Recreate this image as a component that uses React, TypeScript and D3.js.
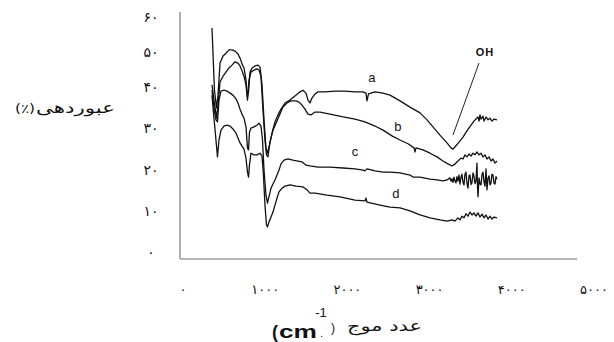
import React, { useLayoutEffect, useRef, useState } from 'react';
import * as d3 from 'd3';

const W = 614;
const H = 342;

// Axis ticks (wavenumber in cm-1, transmittance in %)
const xTicks = [0, 1000, 2000, 3000, 4000, 5000];
const yTicks = [0, 10, 20, 30, 40, 50, 60];

// FTIR spectra: [wavenumber (cm-1), transmittance (%)]
const curveA: [number, number][] = [
  [403, 56.1], [434, 41.0], [460, 36.7], [479, 39.8], [504, 47.6], [542, 49.3], [579, 50.0],
  [617, 50.8], [655, 50.8], [693, 50.5], [730, 49.8], [756, 48.8], [781, 47.4], [806, 46.4],
  [831, 43.5], [850, 39.3], [863, 40.6], [882, 45.4], [907, 46.4], [945, 46.9], [982, 47.1],
  [1008, 46.6], [1033, 42.3], [1058, 33.8], [1083, 27.0], [1102, 25.7], [1121, 27.2],
  [1159, 30.6], [1196, 33.3], [1234, 35.0], [1272, 36.4], [1322, 37.9], [1385, 38.6],
  [1448, 39.6], [1511, 40.6], [1549, 41.0], [1587, 40.3], [1612, 38.6], [1637, 37.9],
  [1662, 39.1], [1700, 40.1], [1738, 40.6], [1826, 40.6], [1952, 40.8], [2078, 40.8],
  [2204, 40.6], [2305, 40.6], [2342, 40.3], [2355, 38.4], [2374, 40.1], [2456, 40.6],
  [2557, 40.3], [2645, 39.8], [2771, 38.4], [2897, 36.9], [3023, 35.5], [3111, 33.8],
  [3186, 32.1], [3274, 30.1], [3363, 28.2], [3413, 27.0], [3438, 26.7], [3463, 27.2],
  [3514, 28.4], [3564, 29.6], [3614, 31.1], [3665, 32.5], [3702, 33.5], [3728, 34.0],
  [3753, 34.5], [3766, 33.5], [3778, 35.0], [3791, 34.0], [3816, 34.7], [3829, 33.5],
  [3854, 34.5], [3879, 33.8], [3904, 34.2], [3929, 33.5], [3955, 34.0], [3992, 33.8],
];

const curveB: [number, number][] = [
  [403, 42.3], [428, 38.6], [460, 34.2], [485, 38.6], [504, 43.0], [542, 44.4], [579, 45.4],
  [617, 46.4], [655, 47.1], [693, 47.9], [730, 47.6], [756, 46.9], [781, 45.7], [806, 44.4],
  [831, 42.3], [850, 38.6], [869, 43.5], [894, 45.4], [932, 45.9], [970, 46.2], [995, 45.9],
  [1020, 44.4], [1045, 36.2], [1070, 28.9], [1089, 25.3], [1108, 24.8], [1133, 28.4],
  [1171, 31.3], [1209, 33.0], [1247, 34.7], [1297, 36.9], [1347, 37.9], [1398, 38.4],
  [1461, 38.4], [1499, 38.1], [1536, 37.4], [1574, 36.4], [1612, 35.2], [1650, 35.0],
  [1700, 35.7], [1763, 35.7], [1889, 35.2], [2053, 34.5], [2204, 34.0], [2330, 33.3],
  [2456, 32.3], [2557, 31.3], [2670, 29.9], [2771, 28.9], [2872, 28.0], [2947, 27.0],
  [2960, 26.0], [2972, 27.0], [3060, 26.5], [3149, 25.7], [3237, 24.8], [3312, 23.8],
  [3375, 23.1], [3426, 22.6], [3463, 23.1], [3501, 23.8], [3539, 24.5], [3564, 24.3],
  [3589, 25.3], [3614, 24.8], [3640, 25.5], [3665, 25.0], [3690, 25.7], [3715, 25.3],
  [3740, 26.0], [3766, 25.3], [3791, 25.7], [3816, 24.8], [3841, 25.3], [3866, 24.3],
  [3892, 24.8], [3917, 23.8], [3942, 24.3], [3967, 23.3], [3992, 23.8],
];

const curveC: [number, number][] = [
  [403, 41.0], [428, 36.7], [453, 33.8], [472, 33.3], [491, 38.6], [516, 40.8], [554, 41.0],
  [592, 40.8], [630, 40.3], [667, 39.8], [705, 38.9], [730, 37.9], [756, 36.4], [781, 35.2],
  [806, 34.2], [831, 32.1], [850, 27.0], [863, 26.5], [875, 30.8], [894, 31.8], [932, 32.1],
  [970, 32.5], [995, 33.0], [1020, 32.3], [1039, 28.9], [1058, 21.6], [1083, 15.5],
  [1102, 13.6], [1121, 15.1], [1146, 17.2], [1171, 18.2], [1196, 19.2], [1222, 20.4],
  [1247, 21.6], [1272, 23.1], [1310, 24.0], [1360, 24.3], [1423, 24.0], [1486, 23.8],
  [1536, 23.6], [1587, 22.8], [1637, 22.6], [1738, 22.3], [1889, 22.3], [2053, 22.1],
  [2204, 21.9], [2305, 21.6], [2330, 21.4], [2355, 21.9], [2456, 21.4], [2557, 21.1],
  [2645, 21.1], [2771, 20.9], [2897, 20.4], [2934, 19.9], [3023, 19.9], [3149, 19.4],
  [3237, 19.2], [3312, 19.0], [3363, 19.2], [3400, 19.7], [3413, 18.9], [3426, 19.5],
  [3438, 18.6], [3451, 19.9], [3463, 18.9], [3476, 18.5], [3488, 20.0], [3501, 18.9],
  [3514, 20.4], [3526, 18.2], [3539, 19.8], [3551, 20.6], [3564, 18.6], [3577, 18.0],
  [3589, 20.6], [3602, 21.1], [3614, 18.4], [3627, 17.2], [3640, 20.2], [3652, 20.4],
  [3665, 18.1], [3677, 18.5], [3690, 20.9], [3702, 20.2], [3715, 18.3], [3728, 19.0],
  [3740, 23.3], [3747, 17.6], [3753, 15.1], [3766, 19.7], [3778, 18.2], [3791, 18.0],
  [3804, 20.6], [3816, 21.1], [3829, 18.6], [3841, 17.7], [3854, 21.9], [3866, 16.8],
  [3879, 19.6], [3892, 20.2], [3904, 18.0], [3917, 18.5], [3929, 20.6], [3942, 20.4],
  [3955, 18.4], [3967, 18.2], [3980, 20.0], [3992, 19.4],
];

const curveD: [number, number][] = [
  [403, 39.8], [428, 34.2], [453, 28.9], [472, 24.8], [491, 28.9], [516, 31.3], [554, 32.3],
  [592, 32.5], [630, 32.3], [667, 31.6], [705, 30.6], [730, 29.4], [756, 28.2], [781, 27.4],
  [806, 26.7], [831, 24.5], [850, 21.1], [863, 19.9], [875, 22.8], [894, 25.7], [932, 25.3],
  [970, 25.3], [1008, 25.7], [1033, 25.0], [1051, 20.4], [1070, 13.1], [1089, 8.3],
  [1102, 7.8], [1121, 9.0], [1146, 10.2], [1171, 11.4], [1196, 13.1], [1222, 14.8],
  [1247, 16.3], [1285, 17.2], [1322, 17.7], [1385, 18.0], [1461, 17.7], [1549, 17.5],
  [1599, 16.8], [1637, 16.0], [1700, 16.0], [1851, 15.5], [2015, 15.1], [2204, 14.3],
  [2330, 14.1], [2342, 14.8], [2355, 13.8], [2519, 13.1], [2645, 12.6], [2771, 12.4],
  [2897, 11.7], [3023, 10.7], [3149, 10.0], [3274, 9.5], [3363, 9.2], [3426, 9.5],
  [3463, 9.2], [3501, 10.0], [3526, 9.5], [3551, 10.4], [3577, 10.0], [3602, 11.0],
  [3627, 10.4], [3652, 11.4], [3677, 10.7], [3702, 11.2], [3728, 10.4], [3753, 11.2],
  [3778, 10.2], [3804, 10.9], [3829, 10.0], [3854, 10.7], [3879, 9.7], [3904, 10.4],
  [3929, 9.7], [3955, 10.2], [3992, 10.0],
];

const seriesNames = ['a', 'b', 'c', 'd'];
// Label anchor for each series name: [wavenumber, transmittance]
const seriesLabelAt: [number, number][] = [
  [2418, 44.2], [2745, 32.3], [2204, 26.0], [2720, 15.8],
];

// OH band annotation: leader line from text down to the band minimum
const ohText = 'OH';
const ohTextAt: [number, number] = [3841, 50.3];
const ohLeader: [number, number][] = [[3766, 47.6], [3438, 30.1]];

const yTitleWord = 'عبوردهی';
const yTitleUnit = '(٪)';
const xTitleWord = 'عدد موج';

const faDigits = '۰۱۲۳۴۵۶۷۸۹';
const toFa = (n: number) => String(n).replace(/\d/g, (d) => faDigits[+d]);

// Text stretched horizontally (glyph shapes preserved) to span [x0, x1]
function WideText(props: {
  x0: number;
  x1: number;
  y: number;
  size: number;
  family: string;
  children: string;
}) {
  const ref = useRef<SVGTextElement>(null);
  const [sx, setSx] = useState(1);
  useLayoutEffect(() => {
    if (ref.current) {
      const w = ref.current.getComputedTextLength();
      if (w > 0) setSx((props.x1 - props.x0) / w);
    }
  }, [props.x0, props.x1, props.size, props.children]);
  return (
    <g transform={`translate(${props.x0},${props.y}) scale(${sx},1)`}>
      <text
        ref={ref}
        x={0}
        y={0}
        fontFamily={props.family}
        fontSize={props.size}
        fill="#111"
      >
        {props.children}
      </text>
    </g>
  );
}

export default function App() {
  const x = d3.scaleLinear().domain([0, 5000]).range([180, 577]);
  const y = d3.scaleLinear().domain([0, 60]).range([259, 12]);
  // Tick label placement
  const xLab = d3.scaleLinear().domain([0, 5000]).range([183, 594]);
  const yLab = d3.scaleLinear().domain([0, 40, 60]).range([252, 87, 17]);

  const line = d3
    .line<[number, number]>()
    .x((d) => x(d[0]))
    .y((d) => y(d[1]));

  const curves = [curveA, curveB, curveC, curveD];

  return (
    <svg
      width={W}
      height={H}
      style={{ position: 'absolute', left: 0, top: 0, background: '#fff' }}
    >
      {/* axes */}
      <line x1={x(0)} x2={x(0)} y1={y(60)} y2={y(0)} stroke="#9c9c9c" strokeWidth={1.6} />
      <line x1={x(0)} x2={x(5000)} y1={y(0)} y2={y(0)} stroke="#9c9c9c" strokeWidth={1.6} />

      {/* y tick labels */}
      {yTicks.map((t) => (
        <text
          key={'y' + t}
          x={151}
          y={yLab(t)}
          textAnchor="middle"
          dominantBaseline="central"
          fontFamily="DejaVu Sans"
          fontSize={14}
          letterSpacing={2}
          fill="#111"
        >
          {toFa(t)}
        </text>
      ))}

      {/* x tick labels */}
      {xTicks.map((t) => (
        <text
          key={'x' + t}
          x={xLab(t)}
          y={289}
          textAnchor="middle"
          dominantBaseline="central"
          fontFamily="DejaVu Sans"
          fontSize={13}
          letterSpacing={1.5}
          fill="#111"
        >
          {toFa(t)}
        </text>
      ))}

      {/* spectra */}
      {curves.map((c, i) => (
        <path
          key={seriesNames[i]}
          d={line(c) || ''}
          fill="none"
          stroke="#111"
          strokeWidth={1.3}
          strokeLinejoin="round"
        />
      ))}

      {/* series names */}
      {seriesNames.map((n, i) => (
        <text
          key={'lab' + n}
          x={x(seriesLabelAt[i][0])}
          y={y(seriesLabelAt[i][1])}
          textAnchor="middle"
          dominantBaseline="central"
          fontFamily="Liberation Sans"
          fontSize={13}
          fill="#111"
        >
          {n}
        </text>
      ))}

      {/* OH annotation */}
      <line
        x1={x(ohLeader[0][0])}
        y1={y(ohLeader[0][1])}
        x2={x(ohLeader[1][0])}
        y2={y(ohLeader[1][1])}
        stroke="#222"
        strokeWidth={1}
      />
      <text
        x={x(ohTextAt[0])}
        y={y(ohTextAt[1])}
        textAnchor="middle"
        dominantBaseline="central"
        fontFamily="Liberation Sans"
        fontWeight="bold"
        fontSize={11}
        letterSpacing={1}
        fill="#111"
      >
        {ohText}
      </text>

      {/* y axis title: unit on the left, word on the right */}
      <text
        x={15}
        y={108}
        dominantBaseline="central"
        fontFamily="DejaVu Sans"
        fontSize={13}
        textLength={20}
        lengthAdjust="spacingAndGlyphs"
        fill="#111"
      >
        {yTitleUnit}
      </text>
      <WideText x0={36} x1={115} y={113} size={15} family="DejaVu Sans">
        {yTitleWord}
      </WideText>

      {/* x axis title */}
      <text x={272} y={338} fontFamily="Liberation Sans" fontWeight="bold" fontSize={18} fill="#111">
        (
      </text>
      <text
        x={279}
        y={338}
        fontFamily="Liberation Sans"
        fontWeight="bold"
        fontSize={19}
        textLength={38}
        lengthAdjust="spacingAndGlyphs"
        fill="#111"
      >
        cm
      </text>
      <text x={320} y={337} fontFamily="Liberation Sans" fontSize={11} fill="#111">
        .
      </text>
      <text x={321} y={317} textAnchor="middle" fontFamily="Liberation Sans" fontSize={13} fill="#111">
        -1
      </text>
      <text x={333} y={332} textAnchor="middle" fontFamily="Liberation Sans" fontSize={12} fill="#111">
        )
      </text>
      <WideText x0={347} x1={422} y={331} size={15} family="DejaVu Sans">
        {xTitleWord}
      </WideText>
    </svg>
  );
}
